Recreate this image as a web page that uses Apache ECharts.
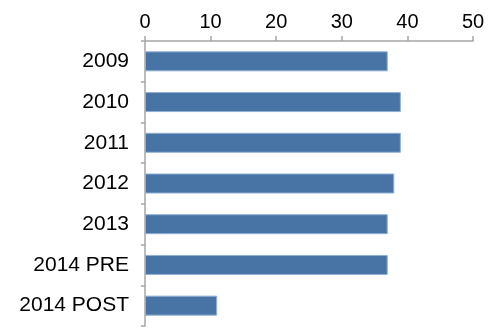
<!DOCTYPE html>
<html>
<head>
<meta charset="utf-8">
<script src="https://cdn.jsdelivr.net/npm/echarts@6/dist/echarts.min.js"></script>
<style>
  html, body { margin: 0; padding: 0; background: #fff; }
  #chart { width: 499px; height: 328px; }
</style>
</head>
<body>
<div id="chart"></div>
<script>
// Yearly values, one bar per period
const categories = ['2009', '2010', '2011', '2012', '2013', '2014 PRE', '2014 POST'];
const values = [37, 39, 39, 38, 37, 37, 11];
const xTicks = [0, 10, 20, 30, 40, 50];

const axisGray = '#a6a6a6';
const font = '"Liberation Sans", Arial, Helvetica, sans-serif';

const chart = echarts.init(document.getElementById('chart'), null, { renderer: 'canvas' });
chart.setOption({
  animation: false,
  backgroundColor: '#ffffff',
  grid: { left: 145, right: 26, top: 41, bottom: 2, containLabel: false },
  xAxis: {
    type: 'value',
    position: 'top',
    min: xTicks[0],
    max: xTicks[xTicks.length - 1],
    interval: xTicks[1] - xTicks[0],
    axisLine: { show: true, lineStyle: { color: axisGray, width: 1.5 } },
    axisTick: { show: true, length: 5, lineStyle: { color: axisGray, width: 1.5 } },
    splitLine: { show: false },
    axisLabel: { color: '#000', fontSize: 20, fontFamily: font, margin: 9 }
  },
  yAxis: {
    type: 'category',
    inverse: true,
    data: categories,
    axisLine: { show: true, lineStyle: { color: axisGray, width: 1.5 } },
    axisTick: { show: true, length: 4, lineStyle: { color: axisGray, width: 1.5 } },
    axisLabel: { color: '#000', fontSize: 21, fontFamily: font, margin: 16 }
  },
  series: [{
    type: 'bar',
    data: values,
    barWidth: 20,
    itemStyle: { color: '#4773a5', borderColor: '#8eb0d5', borderWidth: 1 }
  }]
});
</script>
</body>
</html>
